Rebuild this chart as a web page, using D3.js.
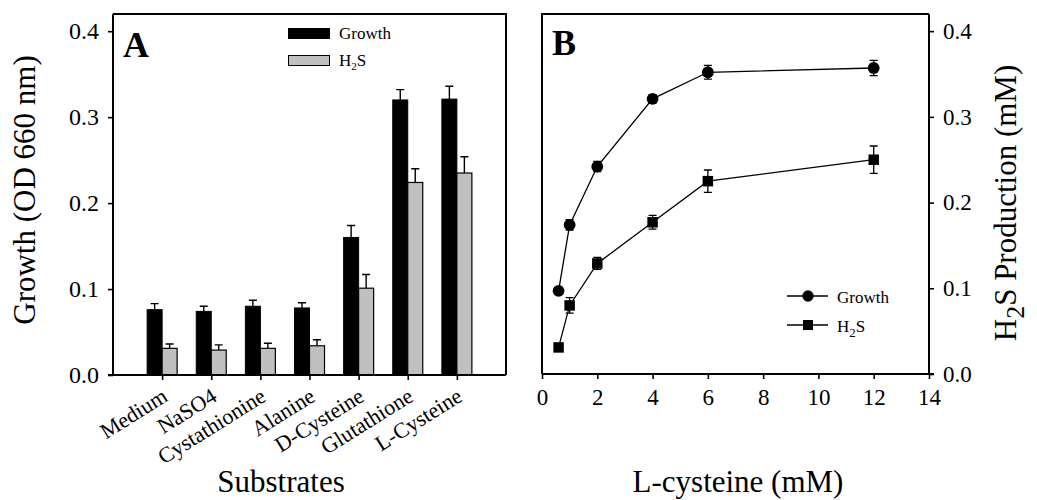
<!DOCTYPE html>
<html>
<head>
<meta charset="utf-8">
<script src="https://cdn.jsdelivr.net/npm/d3@7"></script>
<style>
  body { margin: 0; background: #fff; }
  svg { display: block; font-family: "Liberation Serif", "Times New Roman", serif; }
  .axis path, .axis line { stroke: #000; stroke-width: 1.6; }
  .axis text { font-family: "Liberation Serif", serif; font-size: 23px; fill: #000; }
</style>
</head>
<body>
<svg id="chart" width="1037" height="500"></svg>
<script>
// ---- panel A data
var substrates = ["Medium", "NaSO4", "Cystathionine", "Alanine", "D-Cysteine", "Glutathione", "L-Cysteine"];
var growthA = [0.076, 0.074, 0.080, 0.078, 0.160, 0.320, 0.321];
var growthAErr = [0.007, 0.006, 0.007, 0.006, 0.014, 0.012, 0.015];
var h2sA = [0.031, 0.029, 0.031, 0.034, 0.101, 0.224, 0.235];
var h2sAErr = [0.005, 0.006, 0.006, 0.007, 0.016, 0.016, 0.019];

// ---- panel B data
var cysteine = [0.6, 1, 2, 4, 6, 12];
var growthB = [0.097, 0.174, 0.242, 0.321, 0.352, 0.357];
var growthBErr = [0.000, 0.006, 0.006, 0.005, 0.008, 0.009];
var h2sB = [0.031, 0.080, 0.129, 0.177, 0.225, 0.250];
var h2sBErr = [0.000, 0.009, 0.007, 0.008, 0.013, 0.016];

var yTicks = [0, 0.1, 0.2, 0.3, 0.4];
var xTicksB = [0, 2, 4, 6, 8, 10, 12, 14];

var svg = d3.select("#chart");

////////////// PANEL A

var aL = 113, aR = 506, aT = 14, aB = 375;
var xA = d3.scalePoint().domain(substrates).range([aL, aR]).padding(1);
var yA = d3.scaleLinear().domain([0, 0.42]).range([aB, aT]);
var barW = 15;

var gA = svg.append("g");

// frame
gA.append("path")
    .attr("d", "M" + aL + "," + aT + "H" + aR + "V" + aB)
    .style("fill", "none").style("stroke", "#000").style("stroke-width", 2);

// error bars first (drawn above bar top)
var errA = function (vals, errs, off) {
    gA.selectAll(null).data(substrates).enter().append("path")
        .attr("d", function (d, i) {
            var cx = xA(d) + off, top = yA(vals[i] + errs[i]);
            return "M" + cx + "," + yA(vals[i]) + "V" + top + "M" + (cx - 4) + "," + top + "H" + (cx + 4);
        })
        .style("stroke", "#000").style("stroke-width", 1.4).style("fill", "none");
}
errA(growthA, growthAErr, -barW / 2);
errA(h2sA, h2sAErr, barW / 2);

gA.selectAll(".gbar").data(substrates).enter().append("rect")
    .attr("x", function (d) { return xA(d) - barW; })
    .attr("y", function (d, i) { return yA(growthA[i]); })
    .attr("width", barW)
    .attr("height", function (d, i) { return aB - yA(growthA[i]); })
    .style("fill", "#000").style("stroke", "#000").style("stroke-width", 1);

gA.selectAll(".hbar").data(substrates).enter().append("rect")
    .attr("x", function (d) { return xA(d); })
    .attr("y", function (d, i) { return yA(h2sA[i]); })
    .attr("width", barW)
    .attr("height", function (d, i) { return aB - yA(h2sA[i]); })
    .style("fill", "#c0c0c0").style("stroke", "#000").style("stroke-width", 1.2);

// axes
var axA = gA.append("g").attr("class", "axis").attr("transform", "translate(" + aL + ",0)")
    .call(d3.axisLeft(yA).tickValues(yTicks).tickFormat(d3.format(".1f")).tickSize(5).tickSizeOuter(0).tickPadding(9));
axA.select(".domain").attr("d", "M0," + aT + "V" + aB).style("stroke-width", 2);
axA.selectAll("text").style("font-size", "24px");

var axAx = gA.append("g").attr("class", "axis").attr("transform", "translate(0," + aB + ")")
    .call(d3.axisBottom(xA).tickSize(5).tickSizeOuter(0).tickFormat(""));
axAx.select(".domain").attr("d", "M" + (aL - 5) + ",0H" + aR).style("stroke-width", 2);

gA.selectAll(".catlab").data(substrates).enter().append("text")
    .attr("transform", function (d) { return "translate(" + (xA(d) + 7) + "," + (aB + 25) + ") rotate(-32)"; })
    .style("text-anchor", "end")
    .style("font-size", "22px")
    .text(function (d) { return d; });

gA.append("text").attr("x", 281).attr("y", 492).style("text-anchor", "middle")
    .style("font-size", "31px").text("Substrates");

gA.append("text").attr("transform", "translate(35,190) rotate(-90)").style("text-anchor", "middle")
    .style("font-size", "31px").text("Growth (OD 660 nm)");

gA.append("text").attr("x", 123).attr("y", 57).style("font-size", "36px").style("font-weight", "bold").text("A");

// legend A
var legA = gA.append("g");
legA.append("rect").attr("x", 288).attr("y", 28).attr("width", 42).attr("height", 11).style("fill", "#000");
legA.append("rect").attr("x", 288.5).attr("y", 55.5).attr("width", 41).attr("height", 10).style("fill", "#c0c0c0").style("stroke", "#000");
legA.append("text").attr("x", 339).attr("y", 39).style("font-size", "17px").text("Growth");
var hA = legA.append("text").attr("x", 339).attr("y", 66).style("font-size", "17px");
hA.append("tspan").text("H");
hA.append("tspan").attr("dy", 4).style("font-size", "11px").text("2");
hA.append("tspan").attr("dy", -4).text("S");

////////////// PANEL B

var bL = 542, bR = 929, bT = 14, bB = 374;
var xB = d3.scaleLinear().domain([0, 14]).range([bL, bR]);
var yB = d3.scaleLinear().domain([0, 0.42]).range([bB, bT]);

var gB = svg.append("g");

gB.append("path")
    .attr("d", "M" + bL + "," + bB + "V" + bT + "H" + bR)
    .style("fill", "none").style("stroke", "#000").style("stroke-width", 2);

var axBy = gB.append("g").attr("class", "axis").attr("transform", "translate(" + bR + ",0)")
    .call(d3.axisRight(yB).tickValues(yTicks).tickFormat(d3.format(".1f")).tickSize(5).tickSizeOuter(0).tickPadding(9));
axBy.select(".domain").attr("d", "M0," + bT + "V" + bB).style("stroke-width", 2);

var axBx = gB.append("g").attr("class", "axis").attr("transform", "translate(0," + bB + ")")
    .call(d3.axisBottom(xB).tickValues(xTicksB).tickSize(5).tickSizeOuter(0).tickPadding(10));
axBx.select(".domain").attr("d", "M" + bL + ",0H" + (bR + 5)).style("stroke-width", 2);

var line = d3.line().x(function (d) { return xB(d[0]); }).y(function (d) { return yB(d[1]); });

var drawSeries = function (vals, errs, shape) {
    var pts = cysteine.map(function (c, i) { return [c, vals[i], errs[i]]; });
    gB.append("path").datum(pts).attr("d", line)
        .style("fill", "none").style("stroke", "#000").style("stroke-width", 1.3);
    gB.selectAll(null).data(pts.filter(function (d) { return d[2] > 0; })).enter().append("path")
        .attr("d", function (d) {
            var cx = xB(d[0]), t = yB(d[1] + d[2]), b = yB(d[1] - d[2]);
            return "M" + cx + "," + t + "V" + b + "M" + (cx - 4) + "," + t + "H" + (cx + 4) + "M" + (cx - 4) + "," + b + "H" + (cx + 4);
        })
        .style("stroke", "#000").style("stroke-width", 1.3).style("fill", "none");
    gB.selectAll(null).data(pts).enter().append("path")
        .attr("transform", function (d) { return "translate(" + xB(d[0]) + "," + yB(d[1]) + ")"; })
        .attr("d", d3.symbol().type(shape).size(shape === d3.symbolCircle ? 110 : 110))
        .style("fill", "#000");
}
drawSeries(growthB, growthBErr, d3.symbolCircle);
drawSeries(h2sB, h2sBErr, d3.symbolSquare);

gB.append("text").attr("x", 552).attr("y", 55).style("font-size", "36px").style("font-weight", "bold").text("B");

// legend B
var legB = gB.append("g");
[[296, d3.symbolCircle, "Growth"], [325, d3.symbolSquare, "H2S"]].forEach(function (r) {
    legB.append("path").attr("d", "M787," + r[0] + "H828").style("stroke", "#000").style("stroke-width", 1.3);
    legB.append("path").attr("transform", "translate(808," + r[0] + ")")
        .attr("d", d3.symbol().type(r[1]).size(100)).style("fill", "#000");
    var t = legB.append("text").attr("x", 837).attr("y", r[0] + 7).style("font-size", "17px");
    if (r[2] === "H2S") {
        t.append("tspan").text("H");
        t.append("tspan").attr("dy", 5).style("font-size", "13px").text("2");
        t.append("tspan").attr("dy", -5).text("S");
    } else t.text(r[2]);
});

gB.append("text").attr("x", 738).attr("y", 492).style("text-anchor", "middle")
    .style("font-size", "31px").text("L-cysteine (mM)");

var tB = gB.append("text").attr("transform", "translate(1016,203) rotate(-90)").style("text-anchor", "middle")
    .style("font-size", "31px");
tB.append("tspan").text("H");
tB.append("tspan").attr("dy", 8).style("font-size", "26px").text("2");
tB.append("tspan").attr("dy", -8).text("S Production (mM)");
</script>
</body>
</html>
